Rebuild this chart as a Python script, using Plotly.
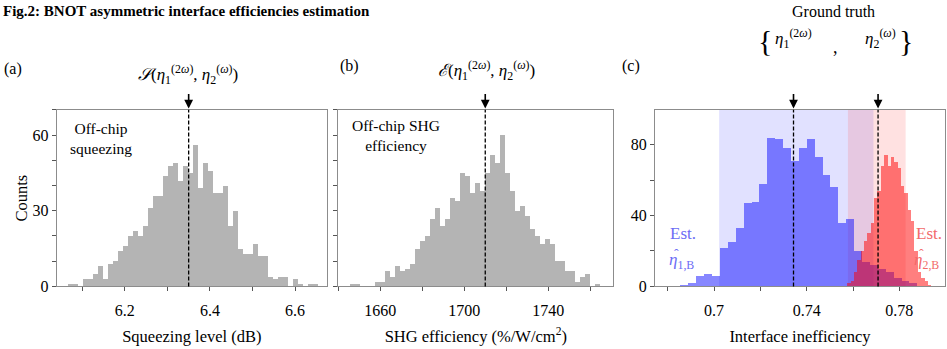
import plotly.graph_objects as go

# ---- data ----
# (a) off-chip squeezing histogram
sq_start, sq_width = 6.067, 0.01172
sq_counts = [1, 1, 0, 3, 3, 5, 8, 3, 9, 10, 14, 16, 20, 22, 20, 24, 31, 36, 36, 44,
             48, 49, 42, 48, 45, 56, 39, 49, 46, 37, 37, 40, 24, 30, 15, 13, 13, 17, 12, 12,
             4, 3, 4, 4, 0, 3, 1, 0, 1, 1]
sq_truth = 6.35

# (b) off-chip SHG efficiency histogram
shg_start, shg_width = 1645.8, 2.38
shg_counts = [1, 1, 0, 0, 0, 2, 2, 6, 4, 8, 6, 7, 9, 15, 18, 20, 27, 31, 24, 27,
              35, 34, 45, 44, 37, 41, 38, 45, 52, 49, 60, 45, 38, 30, 32, 28, 23, 20, 17, 19,
              17, 10, 10, 6, 6, 2, 4, 5, 0, 1]
shg_truth = 1710

# (c) estimated interface inefficiencies
eta1_start, eta1_width = 0.6855, 0.003408
eta1_counts = [1, 2, 6, 7, 6, 22, 25, 33, 47, 48, 58, 84, 83, 78, 71, 78, 83, 73, 63, 56,
               36, 38, 20, 14, 12, 10, 8, 5, 3, 2]
eta2_start, eta2_width = 0.7575, 0.00145
eta2_counts = [2, 3, 8, 15, 20, 26, 30, 36, 50, 54, 68, 74, 68, 73, 70, 67, 57, 53, 43, 37,
               20, 8, 5, 3, 1]
eta1_truth, eta2_truth = 0.7343, 0.7708
eta1_band = [0.7022, 0.7688]
eta2_band = [0.7578, 0.7827]


def centers(start, width, counts):
    return [start + width * (i + 0.5) for i in range(len(counts))]


W, H = 947, 349
FONT = "Liberation Serif"
GRAY = "#b4b4b4"
FRAME = "#8c8c8c"


def px(x0, x1):
    return [x0 / W, x1 / W]


ydom = [1 - 294 / H, 1 - 112.7 / H]

fig = go.Figure()

fig.add_trace(go.Bar(x=centers(sq_start, sq_width, sq_counts), y=sq_counts, width=sq_width,
                     marker=dict(color=GRAY, line=dict(width=0)), xaxis="x", yaxis="y"))
fig.add_trace(go.Bar(x=centers(shg_start, shg_width, shg_counts), y=shg_counts, width=shg_width,
                     marker=dict(color=GRAY, line=dict(width=0)), xaxis="x2", yaxis="y2"))
fig.add_trace(go.Bar(x=centers(eta1_start, eta1_width, eta1_counts), y=eta1_counts, width=eta1_width,
                     marker=dict(color="rgba(0,0,255,0.47)", line=dict(width=0)), xaxis="x3", yaxis="y3"))
fig.add_trace(go.Bar(x=centers(eta2_start, eta2_width, eta2_counts), y=eta2_counts, width=eta2_width,
                     marker=dict(color="rgba(255,0,0,0.5)", line=dict(width=0)), xaxis="x3", yaxis="y3"))

axis_common = dict(showline=True, linecolor=FRAME, linewidth=1, mirror=True, ticks="outside",
                   ticklen=4, tickcolor="#555", showgrid=False, zeroline=False,
                   tickfont=dict(family=FONT, size=16, color="black"))
xtitle_font = dict(family=FONT, size=16.5)
xmore = dict(ticklabelstandoff=5)

fig.update_layout(
    width=W, height=H, margin=dict(l=0, r=0, t=0, b=0),
    paper_bgcolor="white", plot_bgcolor="white", showlegend=False, bargap=0, barmode="overlay",
    font=dict(family=FONT, color="black"),
    xaxis=dict(domain=px(56.7, 327), range=[6.04, 6.675], tickvals=[6.2, 6.4, 6.6],
               minor=dict(dtick=0.1, tick0=6.0, ticks="outside", ticklen=4, tickcolor="#555"),
               title=dict(text="Squeezing level (dB)", font=xtitle_font, standoff=12),
               anchor="y", **xmore, **axis_common),
    yaxis=dict(domain=ydom, range=[0, 70], tickvals=[0, 30, 60],
               minor=dict(dtick=10, ticks="outside", ticklen=4, tickcolor="#555"),
               title=dict(text="Counts", font=xtitle_font, standoff=0),
               anchor="x", **axis_common),
    xaxis2=dict(domain=px(338.3, 613.3), range=[1640, 1771], tickvals=[1660, 1700, 1740],
                minor=dict(dtick=20, tick0=1640, ticks="outside", ticklen=4, tickcolor="#555"),
                title=dict(text="SHG efficiency (%/W/cm<sup>2</sup>)", font=xtitle_font, standoff=12),
                anchor="y2", **xmore, **axis_common),
    yaxis2=dict(domain=ydom, range=[0, 70], tickvals=[0, 10, 20, 30, 40, 50, 60, 70],
                showticklabels=False, anchor="x2", **axis_common),
    xaxis3=dict(domain=px(655, 945), range=[0.6745, 0.7997], tickvals=[0.7, 0.74, 0.78],
                ticktext=["0.7", "0.74", "0.78"],
                minor=dict(dtick=0.02, tick0=0.68, ticks="outside", ticklen=4, tickcolor="#555"),
                title=dict(text="Interface inefficiency", font=xtitle_font, standoff=12),
                anchor="y3", **xmore, **axis_common),
    yaxis3=dict(domain=ydom, range=[0, 99.6], tickvals=[0, 40, 80],
                minor=dict(dtick=20, ticks="outside", ticklen=4, tickcolor="#555"),
                anchor="x3", **axis_common),
)

# shaded estimate bands
fig.add_shape(type="rect", xref="x3", yref="y3 domain", x0=eta1_band[0], x1=eta1_band[1], y0=0, y1=1,
              fillcolor="rgba(90,90,255,0.18)", line=dict(width=0), layer="below")
fig.add_shape(type="rect", xref="x3", yref="y3 domain", x0=eta2_band[0], x1=eta2_band[1], y0=0, y1=1,
              fillcolor="rgba(255,90,90,0.18)", line=dict(width=0), layer="below")

# dashed ground-truth lines and arrows
for xr, xv in [("x", sq_truth), ("x2", shg_truth), ("x3", eta1_truth), ("x3", eta2_truth)]:
    fig.add_shape(type="line", xref=xr, yref=xr.replace("x", "y") + " domain", x0=xv, x1=xv, y0=0, y1=1,
                  line=dict(color="black", width=1.3, dash="4px,2px"))
    fig.add_annotation(x=xv, xref=xr, y=ydom[1] + 0.004, yref="paper", ax=0, ay=-16,
                       showarrow=True, arrowhead=2, arrowsize=1.1, arrowwidth=1.6, arrowcolor="black", text="")


def txt(x, y, s, size=16, color="black", xanchor="center", yanchor="middle"):
    fig.add_annotation(x=x / W, y=1 - y / H, xref="paper", yref="paper", text=s, showarrow=False,
                       font=dict(family=FONT, size=size, color=color), xanchor=xanchor, yanchor=yanchor)


txt(1, 11, "<b>Fig.2: BNOT asymmetric interface efficiencies estimation</b>", size=15, xanchor="left")
txt(2, 71, "(a)", size=16, xanchor="left")
txt(338, 68, "(b)", size=16, xanchor="left")
txt(620, 68, "(c)", size=16, xanchor="left")

eta = "<i>η</i>"
txt(188, 76, "<i>𝒮</i>(" + eta + "<sub>1</sub><sup>(2<i>ω</i>)</sup>, " + eta + "<sub>2</sub><sup>(<i>ω</i>)</sup>)", size=17)
txt(486, 72, "<i>ℰ</i>(" + eta + "<sub>1</sub><sup>(2<i>ω</i>)</sup>, " + eta + "<sub>2</sub><sup>(<i>ω</i>)</sup>)", size=17)

txt(833, 12, "Ground truth", size=16)
txt(765, 42, "{", size=30)
txt(793, 40, eta + "<sub>1</sub><sup>(2<i>ω</i>)</sup>", size=17)
txt(835, 48, ",", size=18)
txt(880, 40, eta + "<sub>2</sub><sup>(<i>ω</i>)</sup>", size=17)
txt(906, 42, "}", size=30)

txt(101, 142, "Off-chip<br>squeezing", size=15.5)
txt(396, 139, "Off-chip SHG<br>efficiency", size=15.5)

BLUE_T, RED_T = "#6c6cf5", "#f26a6a"
txt(683, 240, "Est.", size=17, color=BLUE_T)
txt(667, 268, eta + "<sub>1,B</sub>", size=17, color=BLUE_T, xanchor="left")
txt(676, 261, "ˆ", size=14, color=BLUE_T)
txt(929, 240, "Est.", size=17, color=RED_T)
txt(912, 268, eta + "<sub>2,B</sub>", size=17, color=RED_T, xanchor="left")
txt(921, 261, "ˆ", size=14, color=RED_T)

fig.write_html("out.html", config={"displayModeBar": False},
               post_script="document.body.style.margin='0';document.documentElement.style.overflow='hidden';")
